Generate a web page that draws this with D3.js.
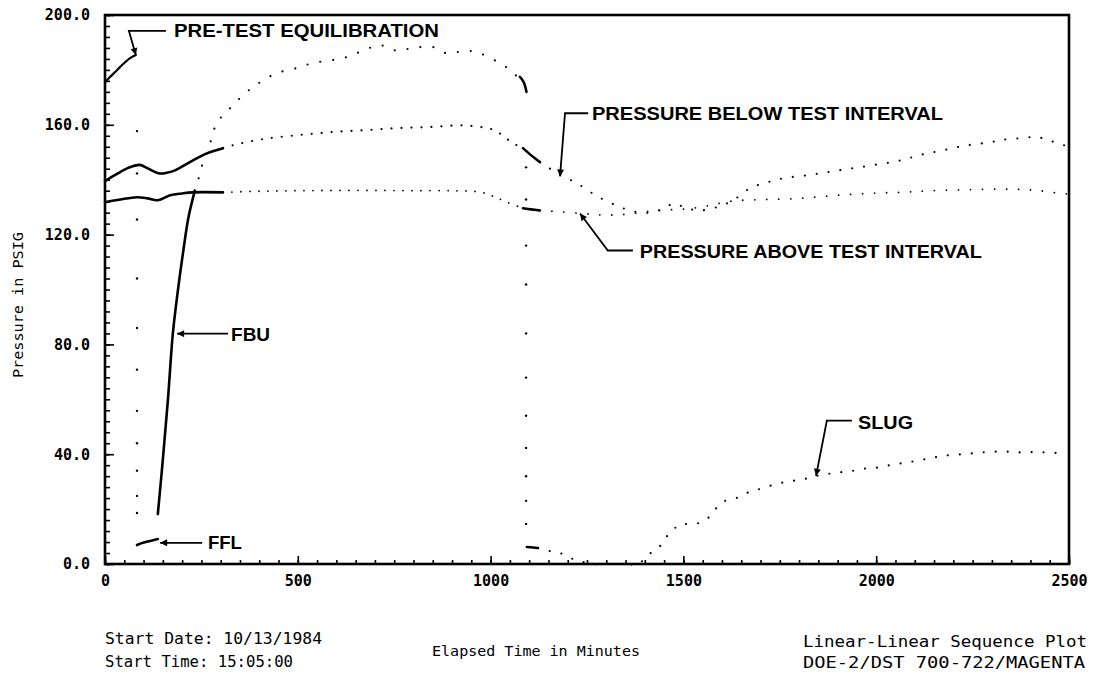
<!DOCTYPE html>
<html>
<head>
<meta charset="utf-8">
<script src="https://cdn.jsdelivr.net/npm/d3@7"></script>
<style>
  body { margin: 0; background: #fff; }
  svg { display: block; }
</style>
</head>
<body>
<svg id="chart" width="1097" height="676"></svg>
<script>
// readings: [elapsed minutes, psig]
var preTest = [[0,175.5],[13,177.4],[26,179.2],[40,181.2],[52,182.8],[65,184.3],[80,185.4]];
var ffl = [[83,6.9],[95,7.6],[105,8.0],[120,8.5],[137,9.1]];
var fbu = [[137,18.2],[150,38],[163,59.5],[176,84],[189,99.6],[203,114],[216,126],[233,136]];
var shutIn = [[233,136],[240,139],[248,143.4],[256,147],[267,150.5],[290,160.6],[324,166],[368,172],[402,175.5],
  [446,178.8],[498,180.7],[539,182.5],[591,183.6],[628,184.7],[669,187],[713,189],[757,187],[799,188],
  [851,188.3],[887,186],[939,187],[973,186],[1017,183],[1050,180],[1076,176.5]];
var shutInEnd = [[1076,177.5],[1086,175.5],[1093,172]];

var belowEarly = [[0,139.5],[30,142],[60,144.3],[90,145.4],[110,144.2],[140,142.3],[160,142.5],[180,143.3],
  [220,146.4],[264,149.6],[306,151.5]];
var belowMid = [[306,151.5],[333,152.6],[410,154.8],[498,156.2],[584,157.3],[669,158],[757,158.8],[843,159.2],
  [928,159.8],[973,159.2],[998,158.6],[1017,157.3],[1032,156.2],[1045,154.6],[1058,153.3],[1084,151.5]];
var belowShut = [[1084,151.5],[1100,149.5],[1115,147.8],[1128,146.4]];
var belowLate = [[1128,146.4],[1154,144],[1180,142],[1206,140],[1232,138],[1276,134],[1328,130.5],[1369,128.5],
  [1413,128],[1457,130],[1473,131.4],[1509,129.6],[1543,128.8],[1587,130],[1629,132.5],[1673,136.9],
  [1717,139],[1758,140.5],[1820,141.6],[1872,142.7],[1932,144],[1992,145.3],[2062,147],[2114,149],
  [2173,150.7],[2235,152.5],[2295,153.6],[2321,154.4],[2365,155],[2417,155.5],[2446,154.4],[2477,153],[2500,152]];

var aboveEarly = [[0,131.8],[40,132.8],[83,133.6],[110,133.2],[137,132.5],[169,134.3],[200,135],[228,135.4],[306,135.4]];
var aboveMid = [[306,135.4],[400,135.8],[500,136],[600,136.1],[700,136.1],[800,136],[900,136],[973,135.5],
  [1000,134.3],[1017,133.4],[1042,131.8],[1076,130]];
var aboveShut = [[1084,129.6],[1105,129.2],[1128,128.8]];
var aboveLate = [[1128,128.8],[1180,128.3],[1240,127.7],[1284,127.2],[1328,127.2],[1369,127.7],[1413,128.5],
  [1457,129],[1500,129.3],[1543,130],[1587,131.2],[1629,132.3],[1673,132.6],[1717,132.8],[1802,133.2],
  [1888,134.2],[1976,135],[2062,135.4],[2147,136],[2277,136.5],[2360,136.5],[2417,136.1],[2477,135],[2500,134.8]];

var slugShut = [[1094,6.2],[1110,6],[1123,5.8]];
var slugLate = [[1123,5.8],[1154,4.7],[1180,4],[1206,2.2],[1232,1.1],[1258,0],[1300,0],[1350,0],[1387,0],
  [1396,1.8],[1409,3.3],[1425,5],[1440,6.6],[1452,9.5],[1470,11.3],[1486,14.2],[1512,14.6],[1543,15],
  [1561,16.4],[1577,18.6],[1590,21.2],[1608,23],[1639,24.1],[1665,25.9],[1691,27],[1725,28.5],[1756,29.6],
  [1784,30.3],[1815,31],[1846,32.1],[1875,32.8],[1906,33.4],[1937,33.9],[1966,34.7],[1997,35],[2028,35.8],
  [2057,36.5],[2088,37.2],[2119,38],[2147,38.7],[2173,39.4],[2204,39.8],[2235,40.1],[2264,40.5],[2295,40.9],
  [2326,40.9],[2355,40.9],[2386,40.5],[2417,40.9],[2446,40.5],[2477,40.5]];

// isolated readings while the tool was moved
var drop1Time = 83;
var drop1 = [157.7,142.3,125.5,104,86,70.8,55.8,44,34,24.8,18.6];
var drop2Time = 1092;
var drop2 = [144.5,132.8,116,101.8,84,67.9,54,42.3,32,23,14.6];

var xTicks = [0,500,1000,1500,2000,2500];
var yTicks = [0,40,80,120,160,200];

// labels: tip / elbow / text in data coords
var notes = [
  {text:"PRE-TEST EQUILIBRATION", tip:[80,185.4], elbow:[62,194.2], end:[158,194.2], at:[179,192], w:265},
  {text:"PRESSURE BELOW TEST INTERVAL", tip:[1180,141.2], elbow:[1193,164.2], end:[1253,164.2], at:[1263,161.7], w:351},
  {text:"PRESSURE ABOVE TEST INTERVAL", tip:[1232,127.7], elbow:[1304,114.2], end:[1369,114.2], at:[1387,111.3], w:342},
  {text:"FBU", tip:[187,83.9], elbow:null, end:[319,83.9], at:[327,81.4], w:39},
  {text:"FFL", tip:[143,7.7], elbow:null, end:[252,7.7], at:[267,5.5], w:34},
  {text:"SLUG", tip:[1844,32.1], elbow:[1872,52.2], end:[1937,52.2], at:[1953,49.3], w:55}
];

var svg = d3.select("#chart");
var margin = {left:105, top:15, right:28, bottom:112};
var W = 1097 - margin.left - margin.right;
var H = 676 - margin.top - margin.bottom;

var x = d3.scaleLinear().domain([0,2500]).range([0,W]);
var y = d3.scaleLinear().domain([0,200]).range([H,0]);

var g = svg.append("g").attr("transform","translate("+margin.left+","+margin.top+")");

var line = d3.line()
  .x(function(d){ return x(d[0]); })
  .y(function(d){ return y(d[1]); })
  .curve(d3.curveCatmullRom);

function solid(data, w){
  g.append("path").datum(data)
    .attr("d", line)
    .attr("fill","none")
    .attr("stroke","#000")
    .attr("stroke-width", w || 2.6)
    .attr("stroke-linejoin","round")
    .attr("stroke-linecap","round");
}
function dotted(data, gap, w){
  g.append("path").datum(data)
    .attr("d", line)
    .attr("fill","none")
    .attr("stroke","#000")
    .attr("stroke-width", w || 2.2)
    .attr("stroke-linecap","round")
    .attr("stroke-dasharray","0,"+gap);
}

// axes - inward ticks
g.append("g").call(d3.axisLeft(y).tickValues(d3.range(0,201,4)).tickSize(-5).tickFormat(""));
g.append("g").call(d3.axisLeft(y).tickValues(yTicks).tickSize(-9).tickPadding(15).tickFormat(d3.format(".1f")));
g.append("g").attr("transform","translate(0,"+H+")")
  .call(d3.axisBottom(x).tickValues(d3.range(0,2501,50)).tickSize(-4).tickFormat(""));
g.append("g").attr("transform","translate(0,"+H+")")
  .call(d3.axisBottom(x).tickValues(xTicks).tickSize(-8).tickPadding(11).tickFormat(d3.format("d")));

g.selectAll(".domain").remove();
g.selectAll(".tick line").attr("stroke","#000").attr("stroke-width",1.6);
g.selectAll(".tick text")
  .attr("font-family","'DejaVu Sans Mono', monospace")
  .attr("font-weight","bold")
  .attr("font-size",15)
  .attr("fill","#000");

g.append("rect").attr("x",0).attr("y",0).attr("width",W).attr("height",H)
  .attr("fill","none").attr("stroke","#000").attr("stroke-width",2.6);

// series
solid(preTest, 2.2);
solid(ffl);
solid(fbu);
dotted(shutIn, 13);
solid(shutInEnd);

solid(belowEarly);
dotted(belowMid, 10);
solid(belowShut);
dotted(belowLate, 12);

solid(aboveEarly);
dotted(aboveMid, 9, 1.8);
solid(aboveShut);
dotted(aboveLate, 12, 1.8);

solid(slugShut);
dotted(slugLate, 12);

g.selectAll(".drop1").data(drop1).enter().append("circle")
  .attr("cx", x(drop1Time)).attr("cy", function(d){ return y(d); }).attr("r",1.2).attr("fill","#000");
g.selectAll(".drop2").data(drop2).enter().append("circle")
  .attr("cx", x(drop2Time)).attr("cy", function(d){ return y(d); }).attr("r",1.2).attr("fill","#000");

// annotations
svg.append("defs").append("marker")
  .attr("id","head").attr("viewBox","0 0 10 10").attr("refX",10).attr("refY",5)
  .attr("markerWidth",9).attr("markerHeight",7).attr("markerUnits","userSpaceOnUse")
  .attr("orient","auto")
  .append("path").attr("d","M0,0 L10,5 L0,10 z").attr("fill","#000");

notes.forEach(function(n){
  var pts = [n.end];
  if(n.elbow) pts.push(n.elbow);
  pts.push(n.tip);
  g.append("path")
    .attr("d", d3.line().x(function(d){ return x(d[0]); }).y(function(d){ return y(d[1]); })(pts))
    .attr("fill","none").attr("stroke","#000").attr("stroke-width",1.8)
    .attr("marker-end","url(#head)");
  g.append("text")
    .attr("x", x(n.at[0])).attr("y", y(n.at[1]))
    .attr("font-family","'Liberation Sans', Arial, sans-serif")
    .attr("font-weight","bold").attr("font-size",18)
    .attr("textLength", n.w).attr("lengthAdjust","spacingAndGlyphs")
    .text(n.text);
});

// titles and footer
var mono = "'DejaVu Sans Mono', monospace";
function footer(txt, px, py, len){
  svg.append("text").attr("x",px).attr("y",py)
    .attr("font-family",mono).attr("font-size",15).attr("font-weight",500)
    .attr("textLength",len).attr("lengthAdjust","spacingAndGlyphs")
    .text(txt);
}
svg.append("text").attr("transform","translate(23,305) rotate(-90)")
  .attr("text-anchor","middle").attr("font-family",mono).attr("font-size",14)
  .attr("textLength",146).attr("lengthAdjust","spacingAndGlyphs")
  .text("Pressure in PSIG");
svg.append("text").attr("x",536).attr("y",656)
  .attr("text-anchor","middle").attr("font-family",mono).attr("font-size",14)
  .attr("textLength",208).attr("lengthAdjust","spacingAndGlyphs")
  .text("Elapsed Time in Minutes");
footer("Start Date: 10/13/1984", 105, 644, 217);
footer("Start Time: 15:05:00", 105, 667, 188);
footer("Linear-Linear Sequence Plot", 803, 647, 284);
footer("DOE-2/DST 700-722/MAGENTA", 803, 668, 282);
</script>
</body>
</html>
